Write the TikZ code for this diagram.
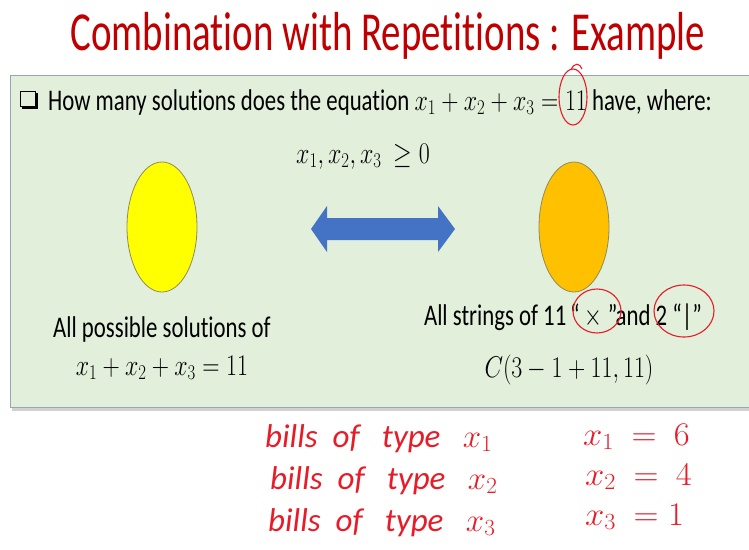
\RequirePackage{fix-cm}
\documentclass[tikz,border=0pt]{standalone}
\usepackage{graphicx}
\usepackage{fontspec}
\setmainfont{Carlito}[Ligatures=NoCommon]
\usetikzlibrary{shapes.geometric,positioning}

\definecolor{slidered}{RGB}{192,0,0}
\definecolor{panelgreen}{RGB}{226,239,218}
\definecolor{panelline}{RGB}{150,165,185}
\definecolor{arrowblue}{RGB}{68,114,196}
\definecolor{inkred}{RGB}{232,28,40}
\definecolor{setyellow}{RGB}{255,255,0}
\definecolor{setorange}{RGB}{255,192,0}

\newcommand{\eqn}[1]{\scalebox{1.05}[1]{$#1$}}

\tikzset{
  squeeze/.style={transform shape, xscale=0.76, inner sep=0pt},
  body/.style={squeeze, font=\fontsize{30}{34}\selectfont},
  setblob/.style={ellipse, draw=gray!60!olive, thick, minimum width=70pt, minimum height=130pt, inner sep=0pt},
  ink/.style={draw=inkred, line width=1.1pt},
  hand/.style={inkred, font=\itshape\fontsize{33}{36}\selectfont, inner sep=0pt, anchor=base west},
}

\begin{document}
\begin{tikzpicture}[x=1pt,y=-1pt]
  \useasboundingbox (0,0) rectangle (749,549);
  \fill[white] (0,0) rectangle (749,549);

  % title
  \node[squeeze, xscale=0.93, slidered, font=\fontsize{55}{60}\selectfont, anchor=base] (title) at (388,50) {Combination with Repetitions : Example};

  % green panel
  \fill[gray!35] (12,406) rectangle (749,411);
  \draw[panelline, fill=panelgreen] (10,75) rectangle (760,407);

  % question
  \node[draw=black, line width=0.9pt, minimum size=15pt, inner sep=0pt] (bullet) at (28,99) {};
  \draw[line width=2.4pt] ([xshift=2pt,yshift=-1.2pt]bullet.south west) -- ([xshift=1.2pt,yshift=-1.2pt]bullet.south east) -- ([xshift=1.2pt,yshift=-2pt]bullet.north east);
  \node[body, anchor=base west] (question) at (48,110) {How many solutions does the equation \eqn{x_1+x_2+x_3 = 11} have, where:};
  \node[body, anchor=base] (cond) at (363,163) {\eqn{x_1, x_2, x_3\ \geq 0}};

  % the two sets
  \node[setblob, fill=setyellow] (solutions) at (162,227) {};
  \node[setblob, fill=setorange] (strings) at (574,227) {};
  \fill[arrowblue] (311,229) -- (327,206) -- (327,218) -- (438,218) -- (438,206) -- (455,229)
    -- (438,252) -- (438,240) -- (327,240) -- (327,252) -- cycle;

  \node[body, anchor=base] (sollabel) at (162,337) {All possible solutions of};
  \node[body, anchor=base] (soleq) at (162,375) {\eqn{x_1+x_2+x_3 = 11}};
  \node[body, anchor=base] (strlabel) at (563,325) {All strings of 11\,\textquotedblleft\ $\times$ \textquotedblright and 2 \textquotedblleft|\textquotedblright};
  \node[body, anchor=base] (count) at (569,377) {\eqn{C(3-1+11,11)}};

  % hand-drawn marks
  \draw[ink] (573,97) ellipse [x radius=14pt, y radius=28pt];
  \draw[ink] (571,70) .. controls (574,62) and (580,63) .. (582,69);
  \draw[ink] (597,311) ellipse [x radius=24pt, y radius=22pt];
  \draw[ink] (684,311) ellipse [x radius=30pt, y radius=26pt];

  \node[hand] (bills1) at (265,447) {bills \ of \ \ type \ \ $x_1$};
  \node[hand] (bills2) at (270,489) {bills \ of \ \ type \ \ $x_2$};
  \node[hand] (bills3) at (268,531) {bills \ of \ \ type \ \ $x_3$};
  \node[hand] (val1) at (583,445) {\eqn{x_1 \ = \ 6}};
  \node[hand] (val2) at (585,485) {\eqn{x_2 \ = \ 4}};
  \node[hand] (val3) at (585,525) {\eqn{x_3 \ = 1}};
\end{tikzpicture}
\end{document}
